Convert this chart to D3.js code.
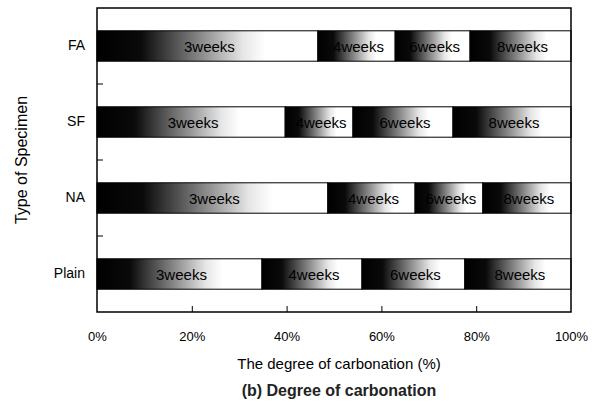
<!DOCTYPE html>
<html><head><meta charset="utf-8">
<script src="https://cdn.jsdelivr.net/npm/d3@7"></script>
<style>body{margin:0;background:#fff}svg{display:block;font-family:"Liberation Sans",Arial,sans-serif}</style>
</head><body><svg id="c" width="605" height="416"></svg>
<script>
const categories = ["FA","SF","NA","Plain"];
const seriesNames = ["3weeks","4weeks","6weeks","8weeks"];
const w1 = [46.6, 39.7, 48.7, 34.8];
const w2 = [16.3, 14.3, 18.4, 21.1];
const w3 = [15.8, 21.1, 14.3, 21.7];
const w4 = [21.3, 24.9, 18.6, 22.4];
const xTicks = [0,20,40,60,80,100];

const seriesVals = [w1,w2,w3,w4];
const rows = categories.map((c,i)=>{const o={cat:c}; seriesNames.forEach((s,j)=>o[s]=seriesVals[j][i]); return o;});
const stack = d3.stack().keys(seriesNames)(rows);

const svg = d3.select("#c");
const m = {l:97, r:571, t:8, b:312};
const x = d3.scaleLinear().domain([0,100]).range([m.l,m.r]);
const y = d3.scaleBand().domain(categories).range([m.t,m.b]).paddingInner(0.6).paddingOuter(0.3);

const defs = svg.append("defs");
const g = defs.append("linearGradient").attr("id","grad").attr("x1","0").attr("x2","1").attr("y1","0").attr("y2","0");
[[0,"#000"],[0.2,"#0a0a0a"],[0.45,"#808080"],[0.66,"#e6e6e6"],[0.76,"#fff"],[1,"#fff"]].forEach(s=>g.append("stop").attr("offset",s[0]).attr("stop-color",s[1]));

// bars
stack.forEach(layer=>{
  const gl = svg.append("g");
  gl.selectAll("rect").data(layer).join("rect")
    .attr("x",d=>x(d[0])).attr("width",d=>x(d[1])-x(d[0]))
    .attr("y",d=>y(d.data.cat)).attr("height",y.bandwidth())
    .attr("fill","url(#grad)").attr("stroke","#000").attr("stroke-width",1);
  gl.selectAll("text").data(layer).join("text")
    .attr("x",d=>(x(d[0])+x(d[1]))/2+2).attr("y",d=>y(d.data.cat)+y.bandwidth()/2+5.5)
    .attr("text-anchor","middle").attr("font-size",15).attr("fill","#000")
    .text(layer.key);
});

// frame
svg.append("rect").attr("x",m.l).attr("y",m.t).attr("width",m.r-m.l).attr("height",m.b-m.t)
  .attr("fill","none").attr("stroke","#000").attr("stroke-width",1.5);

// x axis: inner ticks + labels
const xa = svg.append("g").attr("transform",`translate(0,${m.b})`)
  .call(d3.axisBottom(x).tickValues(xTicks).tickSize(-6).tickPadding(20).tickFormat(d=>d+"%"));
xa.select(".domain").remove();
xa.selectAll("line").attr("stroke","#000");
xa.selectAll("text").attr("font-size",13).attr("fill","#000").attr("font-family","Liberation Sans, Arial, sans-serif");
xa.selectAll(".tick").filter(d=>d===0||d===100).select("line").remove();

// y: category labels and between-band ticks
const ya = svg.append("g").attr("transform",`translate(${m.l},0)`)
  .call(d3.axisLeft(y).tickSize(0).tickPadding(12));
ya.select(".domain").remove();
ya.selectAll("text").attr("font-size",14).attr("fill","#000").attr("font-family","Liberation Sans, Arial, sans-serif");
const step = y.step();
const bounds = categories.slice(1).map(c=>y(c)-y.paddingInner()*step/2);
svg.append("g").selectAll("line").data(bounds).join("line")
  .attr("x1",m.l).attr("x2",m.l+6).attr("y1",d=>d).attr("y2",d=>d).attr("stroke","#000");

// titles
svg.append("text").attr("x",(m.l+m.r)/2+5).attr("y",369).attr("text-anchor","middle")
  .attr("font-size",15).text("The degree of carbonation (%)");
svg.append("text").attr("x",(m.l+m.r)/2+5).attr("y",396).attr("text-anchor","middle")
  .attr("font-size",16).attr("font-weight","bold").attr("fill","#222").text("(b) Degree of carbonation");
svg.append("text").attr("transform",`translate(27,${(m.t+m.b)/2}) rotate(-90)`).attr("text-anchor","middle")
  .attr("font-size",16).text("Type of Specimen");
</script></body></html>
